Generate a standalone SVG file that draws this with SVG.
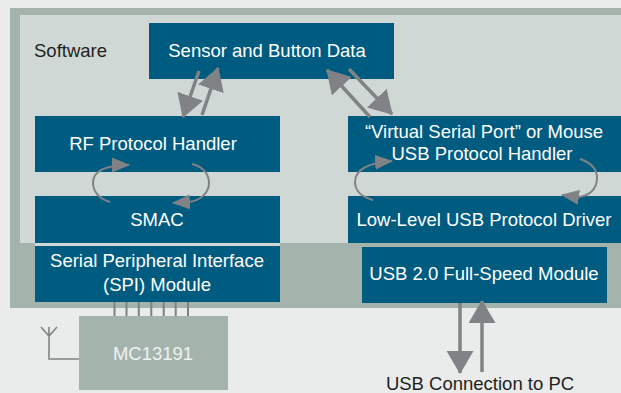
<svg xmlns="http://www.w3.org/2000/svg" width="621" height="393" viewBox="0 0 621 393">
<style>
.box{fill:#005b80}
.t{font-family:"Liberation Sans",Arial,sans-serif;font-size:18.5px;fill:#ffffff;text-anchor:middle}
.dark{fill:#231f20}
.big{stroke:#808285;stroke-width:3.5;fill:none}
.cyc{stroke:#808285;stroke-width:2;fill:none}
.pin{stroke:#7d8282;stroke-width:2}
.ant{stroke:#808285;stroke-width:1.6;fill:none}
</style>
<defs>
<marker id="ah" markerUnits="userSpaceOnUse" markerWidth="23" markerHeight="27" refX="22" refY="13.5" orient="auto">
<path d="M0,0 L23,13.5 L0,27 z" fill="#808285"/>
</marker>
<marker id="as" markerUnits="userSpaceOnUse" markerWidth="18" markerHeight="15" refX="17" refY="7.5" orient="auto">
<path d="M0,0 L18,7.5 L0,15 z" fill="#808285"/>
</marker>
</defs>
<rect x="0" y="0" width="621" height="393" fill="#e9eceb"/>
<rect x="10" y="8" width="611" height="300" fill="#a5b3ad"/>
<rect x="20" y="15" width="601" height="228" fill="#cfd8d4"/>
<text x="34" y="57" class="t dark" style="text-anchor:start">Software</text>

<g id="sensor"><rect class="box" x="149" y="23" width="245" height="56"/><text class="t" x="267" y="57">Sensor and Button Data</text></g>
<g id="rf"><rect class="box" x="35" y="116" width="245" height="56"/><text class="t" x="153" y="150">RF Protocol Handler</text></g>
<g id="smac"><rect class="box" x="35" y="196" width="245" height="47"/><text class="t" x="157" y="226">SMAC</text></g>
<rect x="35" y="243" width="245" height="3" fill="#cfd8d4"/>
<g id="spi"><rect class="box" x="35" y="246" width="245" height="56"/><text class="t" x="157" y="267">Serial Peripheral Interface</text><text class="t" x="157" y="291">(SPI) Module</text></g>
<g id="vsp"><rect class="box" x="348" y="116" width="273" height="56"/><text class="t" x="484" y="138">“Virtual Serial Port” or Mouse</text><text class="t" x="482" y="160">USB Protocol Handler</text></g>
<g id="lowlevel"><rect class="box" x="348" y="196" width="273" height="47"/><text class="t" x="484" y="226">Low-Level USB Protocol Driver</text></g>
<g id="usb20"><rect class="box" x="362" y="247" width="245" height="56"/><text class="t" x="484" y="280">USB 2.0 Full-Speed Module</text></g>
<g id="mc13191"><rect x="79" y="316" width="149" height="74" fill="#a5b3ad"/><text class="t" x="153" y="360" style="fill:#eef1f0">MC13191</text></g>
<g id="antenna"><path class="ant" d="M41,327 L49,336 L57,327 M49,327 L49,359 L79,359"/></g>
<text class="t dark" x="480" y="390">USB Connection to PC</text>

<g id="connectors">
<g id="pins">
<line class="pin" x1="114.5" y1="302" x2="114.5" y2="316"/>
<line class="pin" x1="126.5" y1="302" x2="126.5" y2="316"/>
<line class="pin" x1="138.8" y1="302" x2="138.8" y2="316"/>
<line class="pin" x1="151.3" y1="302" x2="151.3" y2="316"/>
<line class="pin" x1="163.7" y1="302" x2="163.7" y2="316"/>
<line class="pin" x1="175.7" y1="302" x2="175.7" y2="316"/>
<line class="pin" x1="188" y1="302" x2="188" y2="316"/>
</g>
<line class="big" x1="199" y1="71" x2="183" y2="117" marker-end="url(#ah)"/>
<line class="big" x1="202" y1="115" x2="218" y2="68" marker-end="url(#ah)"/>
<line class="big" x1="370" y1="117" x2="327" y2="70" marker-end="url(#ah)"/>
<line class="big" x1="349" y1="69" x2="392" y2="114" marker-end="url(#ah)"/>
<line class="big" x1="460" y1="303" x2="460" y2="373" marker-end="url(#ah)"/>
<line class="big" x1="482" y1="372" x2="482" y2="301" marker-end="url(#ah)"/>
<path class="cyc" d="M110,202 C99,199 93,191 93,183 C93,172 103,165 129,165" marker-end="url(#as)"/>
<path class="cyc" d="M192,164 C204,167 209,175 209,183 C209,193 200,201 188,202 L173,203" marker-end="url(#as)"/>
<path class="cyc" d="M373,200 C361,197 355,190 355,182 C355,170 366,163 392,161" marker-end="url(#as)"/>
<path class="cyc" d="M580,159 C592,163 597,170 597,178 C597,190 588,197 576,197 L562,195" marker-end="url(#as)"/>
</g>
</svg>
